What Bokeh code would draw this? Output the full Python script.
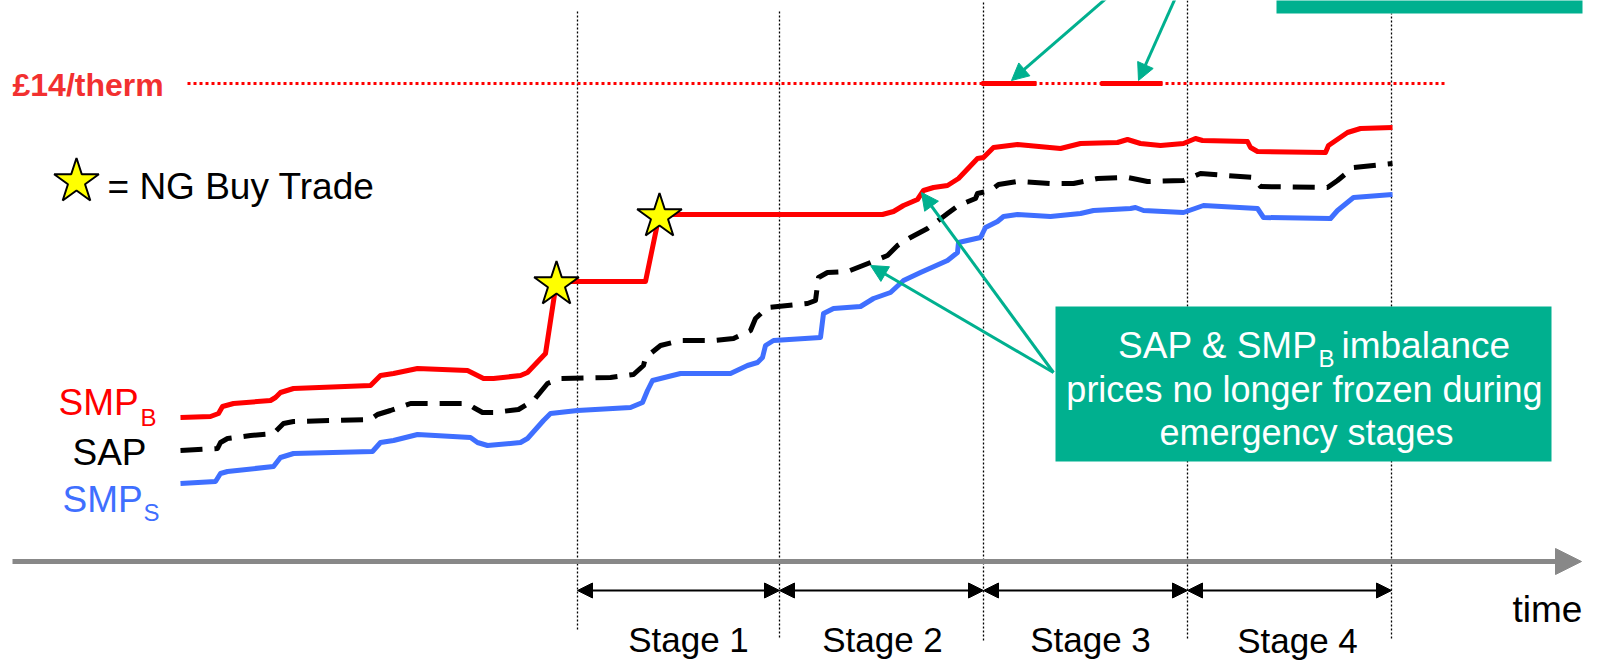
from bokeh.plotting import figure
from bokeh.models import Range1d, Arrow, NormalHead, Label, BoxAnnotation
from bokeh.embed import file_html
from bokeh.resources import INLINE

# ---------------- data (time position, price level) ----------------
smpb_t = [180, 210, 218, 222, 233, 270, 275, 280, 293, 370, 380, 393, 417, 467, 473, 483, 493, 520, 527,
          545, 547, 556, 645, 657, 660, 882, 893, 903, 917, 923, 933, 947, 958, 977, 983, 993, 1017, 1060,
          1080, 1117, 1127, 1140, 1160, 1183, 1195, 1202, 1247, 1250, 1257, 1325, 1328, 1347, 1360, 1392]
smpb_p = [244, 245, 248, 255, 258, 261, 264, 269, 273, 276, 286, 288, 293, 291, 288, 283, 283, 286, 289,
          308, 321, 380, 380, 438, 447, 447, 450, 456, 462, 471, 474, 476, 483, 503, 504, 514, 517, 513,
          518, 519, 522, 518, 516, 518, 523, 521, 520, 514, 510, 509, 516, 529, 533, 534]

sap_t = [180, 217, 220, 227, 250, 273, 283, 293, 370, 377, 390, 410, 467, 473, 482, 493, 518, 533, 547,
         560, 610, 633, 643, 645, 660, 680, 713, 733, 750, 755, 767, 807, 815, 818, 827, 847, 870, 887,
         897, 910, 927, 947, 958, 975, 977, 990, 998, 1017, 1050, 1073, 1097, 1127, 1147, 1183, 1200,
         1253, 1260, 1327, 1337, 1353, 1392]
sap_p = [211, 213, 219, 223, 226, 228, 238, 240, 242, 247, 251, 258, 258, 254, 249, 249, 252, 261, 278,
         283, 284, 287, 296, 304, 316, 321, 321, 323, 331, 343, 354, 358, 361, 384, 389, 390, 399, 406,
         416, 424, 433, 448, 456, 463, 468, 471, 477, 480, 478, 478, 483, 484, 480, 481, 488,
         484, 475, 474, 481, 494, 498]

smps_t = [180, 215, 220, 227, 273, 280, 293, 372, 380, 393, 417, 470, 477, 487, 520, 527, 543, 550, 577,
          630, 642, 647, 652, 680, 730, 747, 757, 762, 765, 773, 820, 823, 833, 860, 873, 890, 903, 920,
          947, 957, 958, 980, 985, 997, 1003, 1017, 1050, 1080, 1093, 1130, 1135, 1143, 1183, 1203, 1257,
          1263, 1330, 1337, 1353, 1392]
smps_p = [178, 180, 188, 190, 195, 204, 208, 210, 219, 221, 227, 224, 219, 216, 219, 223, 241, 248, 251,
          254, 259, 271, 281, 288, 288, 296, 299, 304, 316, 321, 324, 348, 353, 355, 363, 369, 381, 389,
          401, 409, 419, 424, 434, 440, 445, 447, 445, 448, 451, 453, 454, 451, 449, 456, 453,
          444, 443, 451, 464, 467]

# NG buy trades (stars)
trade_t = [556, 659]
trade_p = [377, 445]

# £14/therm cap level and the capped SMP_B segments during Stage 3
cap_level = 578
cap_start, cap_end = 187, 1445
capped_t0 = [981, 1100]
capped_t1 = [1036, 1162]

# emergency stage boundaries and labels
stage_bounds = [577, 779, 983, 1187, 1391]
stage_names = ["Stage 1", "Stage 2", "Stage 3", "Stage 4"]
stage_label_x = [688, 882, 1090, 1297]
stage_label_y = [22, 22, 22, 21]
stage_line_bottom = [32, 24, 21, 23, 23]
stage_line_top = [651, 651, 661, 661, 648]

RED = "#FF0000"
BLUE = "#3F6FFF"
TEAL = "#00B08F"
GREY = "#888888"
FONT = "Liberation Sans"

p = figure(width=1598, height=661, x_range=Range1d(0, 1598), y_range=Range1d(0, 661),
           output_backend="svg", toolbar_location=None, min_border=0)
p.axis.visible = False
p.grid.visible = False
p.outline_line_color = None
p.background_fill_color = "white"
p.border_fill_color = "white"

# stage dotted verticals
p.segment(x0=stage_bounds, y0=stage_line_bottom, x1=stage_bounds, y1=stage_line_top,
          line_color="black", line_width=1.3, line_dash="2 2")

# £14/therm dotted line and capped segments
p.segment(x0=[cap_start], y0=[cap_level], x1=[cap_end], y1=[cap_level],
          line_color=RED, line_width=3, line_dash="3 3")
p.segment(x0=capped_t0, y0=[cap_level] * 2, x1=capped_t1, y1=[cap_level] * 2,
          line_color=RED, line_width=5)

# price curves
p.line(smpb_t, smpb_p, line_color=RED, line_width=5, line_join="round")
p.line(smps_t, smps_p, line_color=BLUE, line_width=5, line_join="round")
p.line(sap_t, sap_p, line_color="black", line_width=5, line_dash="22 12", line_join="round")

# stars
p.scatter(trade_t, trade_p, marker="star", size=47, fill_color="#FFFF00",
          line_color="black", line_width=2)
p.scatter([76], [480], marker="star", size=47, fill_color="#FFFF00",
          line_color="black", line_width=2)

# time axis arrow
p.add_layout(Arrow(end=NormalHead(size=26, fill_color=GREY, line_color=GREY),
                   x_start=12, y_start=100, x_end=1581, y_end=100,
                   line_color=GREY, line_width=5))

# stage double arrows
for i in range(len(stage_names)):
    p.add_layout(Arrow(start=NormalHead(size=15, fill_color="black", line_color="black"),
                       end=NormalHead(size=15, fill_color="black", line_color="black"),
                       x_start=stage_bounds[i], y_start=71, x_end=stage_bounds[i + 1], y_end=71,
                       line_color="black", line_width=2))
    p.add_layout(Label(x=stage_label_x[i], y=stage_label_y[i], text=stage_names[i],
                       text_font=FONT, text_font_size="35px", text_align="center",
                       text_baseline="alphabetic", text_color="black"))

# teal boxes
p.add_layout(BoxAnnotation(left=1276, right=1582, bottom=648, top=670,
                           fill_color=TEAL, fill_alpha=1, line_color=None))
p.add_layout(BoxAnnotation(left=1055, right=1551, bottom=200, top=355,
                           fill_color=TEAL, fill_alpha=1, line_color=None))

# teal pointer arrows
teal_arrows = [((1109, 666), (1011, 581)), ((1176, 666), (1138, 581)),
               ((1053, 289), (921, 469)), ((1053, 289), (870, 396))]
for (xs, ys), (xe, ye) in teal_arrows:
    p.add_layout(Arrow(end=NormalHead(size=17, fill_color=TEAL, line_color=TEAL),
                       x_start=xs, y_start=ys, x_end=xe, y_end=ye,
                       line_color=TEAL, line_width=3))

def lab(x, y, t, size, color="black", align="left", bold=False):
    p.add_layout(Label(x=x, y=y, text=t, text_font=FONT, text_font_size=size,
                       text_color=color, text_align=align, text_baseline="alphabetic",
                       text_font_style="bold" if bold else "normal"))

lab(12, 577, "£14/therm", "32px", color="#F23030", bold=True)
lab(107, 475, "= NG Buy Trade", "37px")

lab(58, 259, "SMP", "37px", color=RED)
lab(140, 244, "B", "24px", color=RED)
lab(72, 209, "SAP", "37px")
lab(62, 162, "SMP", "37px", color=BLUE)
lab(143, 149, "S", "24px", color=BLUE)

lab(1512, 52, "time", "37px")

lab(1317, 316, "SAP & SMP", "37px", color="white", align="right")
lab(1318, 303, "B", "24px", color="white")
lab(1341, 316, "imbalance", "37px", color="white")
lab(1304, 272, "prices no longer frozen during", "36px", color="white", align="center")
lab(1306, 229, "emergency stages", "36px", color="white", align="center")

open("out.html", "w").write(file_html(p, INLINE))
